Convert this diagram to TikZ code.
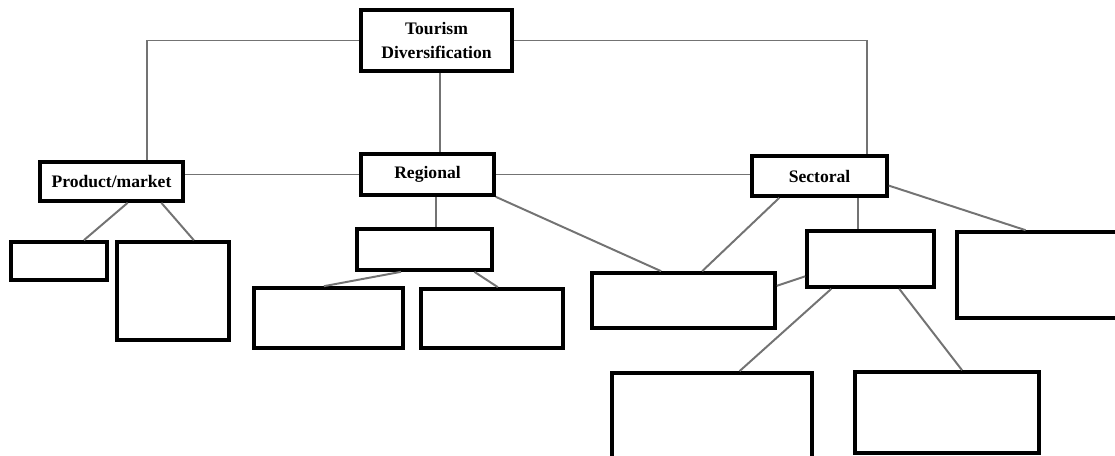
\documentclass[tikz,border=0pt]{standalone}
\usepackage{fontspec}
\setmainfont{Liberation Serif}
\usetikzlibrary{calc}
\begin{document}
\begin{tikzpicture}[x=0.025cm, y=-0.025cm,
		box/.style 2 args={draw=black, line width=2.6pt, minimum width=#1*0.025cm, minimum height=#2*0.025cm, inner sep=0pt},
		lbl/.style={font=\fontsize{12.5}{16.4}\selectfont\bfseries, align=center},
		link/.style={draw=black!55, line width=1.4pt}]
	\useasboundingbox (0,0) rectangle (1115,455);
	\clip (0,0) rectangle (1115,455);
	\node[box={151}{61}, lbl] (top) at (436.5,40.5) {Tourism\\Diversification};
	\node[box={143}{39}, lbl] (pm) at (111.5,181.5) {Product/market};
	\node[box={133}{41}, lbl] (reg) at (427.5,174.5) {Regional};
	\node[box={135}{40}, lbl] (sec) at (819.5,176) {Sectoral};
	\foreach \n/\x/\y/\w/\h in {pmL/59/261/96/38, pmR/173/291/112/98,
		regTop/424.5/249.5/135/41, regL/328.5/318/149/60, regR/492/318.5/142/59,
		shared/683.5/300.5/183/55, secMid/870.5/259/127/56, secRight/1041/275/168/86,
		secMidL/712/419/200/92, secMidR/947/412.5/184/81}{
			\node[box={\w}{\h}] (\n) at (\x,\y) {};
		}
	\draw[link] (top.west) -| ($(pm.north west)!.74!(pm.north east)$);
	\draw[link] (top.east) -| ($(sec.north west)!.84!(sec.north east)$);
	\draw[link] ($(top.south west)!.52!(top.south east)$) coordinate (t1) -- (t1 |- reg.north);
	\draw[link] (pm.east |- reg.west) -- (reg.west);
	\draw[link] (reg.east) -- (reg.east -| sec.west);
	\draw[link] ($(pm.south west)!.61!(pm.south east)$) -- ($(pmL.north west)!.75!(pmL.north east)$);
	\draw[link] ($(pm.south west)!.84!(pm.south east)$) -- ($(pmR.north west)!.68!(pmR.north east)$);
	\draw[link] ($(reg.south west)!.56!(reg.south east)$) coordinate (r1) -- (r1 |- regTop.north);
	\draw[link] ($(regTop.south west)!.33!(regTop.south east)$) -- ($(regL.north west)!.47!(regL.north east)$);
	\draw[link] ($(regTop.south west)!.86!(regTop.south east)$) -- ($(regR.north west)!.54!(regR.north east)$);
	\draw[link] (reg.south east) -- ($(shared.north west)!.38!(shared.north east)$);
	\draw[link] ($(sec.south west)!.21!(sec.south east)$) -- ($(shared.north west)!.6!(shared.north east)$);
	\draw[link] ($(sec.south west)!.78!(sec.south east)$) coordinate (s1) -- (s1 |- secMid.north);
	\draw[link] ($(sec.north east)!.72!(sec.south east)$) -- ($(secRight.north west)!.41!(secRight.north east)$);
	\draw[link] ($(shared.north east)!.25!(shared.south east)$) -- ($(secMid.north west)!.79!(secMid.south west)$);
	\draw[link] ($(secMid.south west)!.2!(secMid.south east)$) -- ($(secMidL.north west)!.635!(secMidL.north east)$);
	\draw[link] ($(secMid.south west)!.72!(secMid.south east)$) -- ($(secMidR.north west)!.58!(secMidR.north east)$);
\end{tikzpicture}
\end{document}
